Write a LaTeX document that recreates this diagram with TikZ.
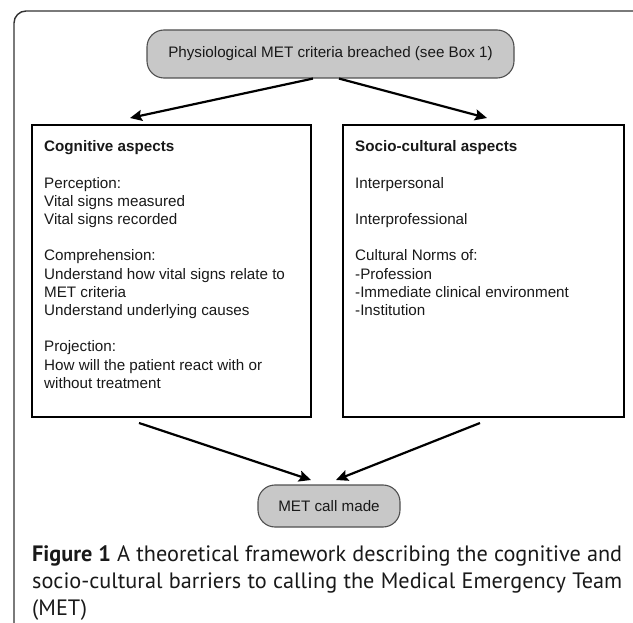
\documentclass[tikz,border=0pt]{standalone}
\usepackage{fontspec}
\setmainfont{Liberation Sans}
\newfontfamily\capfont{PT Sans}
\usetikzlibrary{arrows.meta}
\definecolor{nodegray}{RGB}{200,200,200}
\definecolor{edgegray}{RGB}{80,80,80}
\definecolor{txt}{RGB}{25,25,25}
\definecolor{framec}{RGB}{50,50,50}
\newlength\capwidth
\tikzset{
  pill/.style={draw=edgegray, line width=1.1pt, fill=nodegray, rounded corners=17pt, inner sep=0pt, text=txt,
    font=\fontsize{15.2}{18.2}\selectfont},
  bigbox/.style={draw=black, line width=1.2pt, inner sep=0pt, fill=white},
  boxtext/.style={anchor=north west, inner sep=0pt, align=left, text=txt, font=\fontsize{15.2}{18.2}\selectfont},
  flow/.style={line width=2.2pt, black, -{Stealth[length=12pt,width=11pt,inset=2pt]}}
}
\begin{document}
\settowidth\capwidth{\capfont\fontsize{10}{12}\selectfont\textbf{Figure 1} A theoretical framework describing the cognitive and}%
\pgfmathsetmacro\capsize{10*588/\capwidth}%
\begin{tikzpicture}[x=1pt,y=-1pt]
\useasboundingbox (0,0) rectangle (633,623);
% outer frame
\draw[framec, line width=1.4pt, rounded corners=12pt] (14,623) -- (14,11) -- (640,11);
% top node
\node[pill, minimum width=367pt, minimum height=48pt] (top) at (330.5,54) {Physiological MET criteria breached (see Box 1)};
% boxes
\node[bigbox, minimum width=279pt, minimum height=292pt] (cog) at (171.5,271) {};
\node[bigbox, minimum width=281pt, minimum height=292pt] (soc) at (483.5,271) {};
\node[boxtext] (cogt) at (44,140.5) {\textbf{Cognitive aspects}\\[18.2pt]
Perception:\\
Vital signs measured\\
Vital signs recorded\\[18.2pt]
Comprehension:\\
Understand how vital signs relate to\\
MET criteria\\
Understand underlying causes\\[18.2pt]
Projection:\\
How will the patient react with or\\
without treatment};
\node[boxtext] (soct) at (355,140.5) {\textbf{Socio-cultural aspects}\\[18.2pt]
Interpersonal\\[18.2pt]
Interprofessional\\[18.2pt]
Cultural Norms of:\\
-Profession\\
-Immediate clinical environment\\
-Institution};
% bottom node
\node[pill, minimum width=142pt, minimum height=42pt] (met) at (329,506) {MET call made};
% arrow ends
\coordinate (t1) at (130,118);
\coordinate (t2) at (487,118);
\coordinate (b1) at (139,423);
\coordinate (b2) at (480,423);
\coordinate (m1) at (311,480);
\coordinate (m2) at (336,480);
\draw[flow] (top.south -| 313,0) -- (t1);
\draw[flow] (top.south -| 339,0) -- (t2);
\draw[flow] (b1) -- (m1);
\draw[flow] (b2) -- (m2);
% caption
\node[anchor=north west, inner sep=0pt, text width=590pt, align=justify, text=txt,
  font=\capfont\fontsize{\capsize}{27}\selectfont] (cap) at (32,545)
  {\textbf{Figure 1} A theoretical framework describing the cognitive and\linebreak socio-cultural barriers to calling the Medical Emergency Team\linebreak (MET)};
\end{tikzpicture}
\end{document}
